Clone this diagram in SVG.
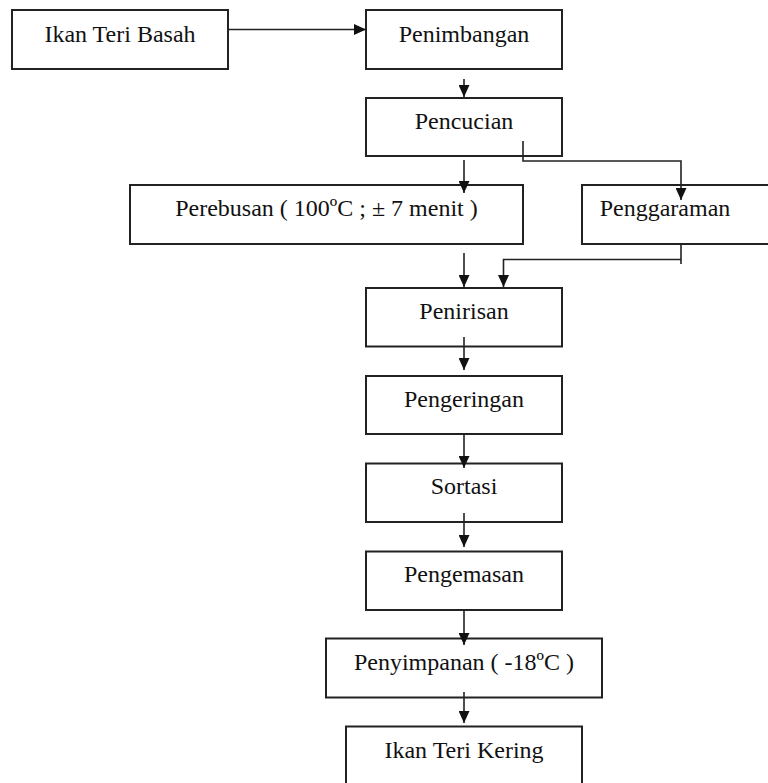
<svg xmlns="http://www.w3.org/2000/svg" width="768" height="783" viewBox="0 0 768 783">
<defs>
<marker id="ah" viewBox="0 0 12 11" refX="12" refY="5.5" markerWidth="12" markerHeight="11" orient="auto" markerUnits="userSpaceOnUse">
<path d="M0,0 L12,5.5 L0,11 Z" fill="#111"/>
</marker>
<style>
.box{fill:#fff;stroke:#222;stroke-width:2}
.lbl{font-family:"Liberation Serif","Times New Roman",serif;font-size:24px;fill:#111;text-anchor:middle}
.con{fill:none;stroke:#222;stroke-width:1.6}
</style>
</defs>
<rect width="768" height="783" fill="#fff"/>
<g id="n-ikan-basah"><rect class="box" x="12" y="10" width="216" height="59"/><text class="lbl" x="120" y="42">Ikan Teri Basah</text></g>
<g id="n-penimbangan"><rect class="box" x="366" y="10" width="196" height="59"/><text class="lbl" x="464" y="42">Penimbangan</text></g>
<g id="n-pencucian"><rect class="box" x="366" y="98" width="196" height="58"/><text class="lbl" x="464" y="129">Pencucian</text></g>
<g id="n-perebusan"><rect class="box" x="130" y="185" width="393" height="59"/><text class="lbl" x="326.5" y="216">Perebusan ( 100ºC ; ± 7 menit )</text></g>
<g id="n-penggaraman"><rect class="box" x="582" y="185" width="190" height="59"/><text class="lbl" x="665" y="216">Penggaraman</text></g>
<g id="n-penirisan"><rect class="box" x="366" y="288" width="196" height="58.5"/><text class="lbl" x="464" y="319">Penirisan</text></g>
<g id="n-pengeringan"><rect class="box" x="366" y="376" width="196" height="58"/><text class="lbl" x="464" y="407">Pengeringan</text></g>
<g id="n-sortasi"><rect class="box" x="366" y="463.5" width="196" height="58.5"/><text class="lbl" x="464" y="494">Sortasi</text></g>
<g id="n-pengemasan"><rect class="box" x="366" y="551.5" width="196" height="58.5"/><text class="lbl" x="464" y="582">Pengemasan</text></g>
<g id="n-penyimpanan"><rect class="box" x="326" y="638.5" width="276" height="59"/><text class="lbl" x="464" y="670">Penyimpanan ( -18ºC )</text></g>
<g id="n-ikan-kering"><rect class="box" x="346" y="726.5" width="236" height="70"/><text class="lbl" x="464" y="758">Ikan Teri Kering</text></g>
<g id="connectors">
<path class="con" d="M228,29.5 H366" marker-end="url(#ah)"/>
<path class="con" d="M464,79 V97" marker-end="url(#ah)"/>
<path class="con" d="M464,160 V193" marker-end="url(#ah)"/>
<path class="con" d="M523,141 V161 H681 V200" marker-end="url(#ah)"/>
<path class="con" d="M464,253 V287" marker-end="url(#ah)"/>
<path class="con" d="M681,244 V264"/>
<path class="con" d="M681,259.5 H503.5 V287" marker-end="url(#ah)"/>
<path class="con" d="M464,337 V370" marker-end="url(#ah)"/>
<path class="con" d="M464,434 V468" marker-end="url(#ah)"/>
<path class="con" d="M464,513 V547" marker-end="url(#ah)"/>
<path class="con" d="M464,610 V645" marker-end="url(#ah)"/>
<path class="con" d="M464,692 V723" marker-end="url(#ah)"/>
</g>
</svg>
